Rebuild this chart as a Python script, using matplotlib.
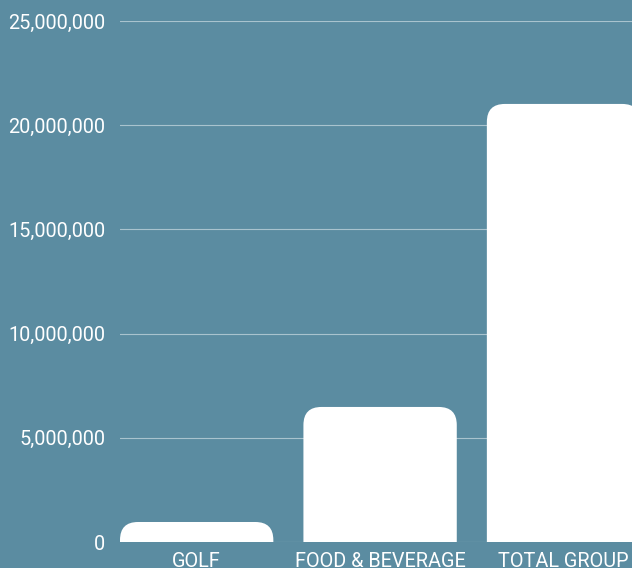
import matplotlib.pyplot as plt
from matplotlib.patches import FancyBboxPatch
from matplotlib.ticker import FuncFormatter

categories = ['GOLF', 'FOOD & BEVERAGE', 'TOTAL GROUP']
values = [960000, 6480000, 21020000]
y_ticks = [0, 5000000, 10000000, 15000000, 20000000, 25000000]

bg = '#5b8ca1'
W, H = 632, 568
fig = plt.figure(figsize=(W / 100, H / 100), dpi=100, facecolor=bg)
ax = fig.add_axes([120 / W, 26 / H, 1 - 120 / W, (542 - 21) / H])
ax.set_facecolor(bg)

bar_w = 0.836
ymax = 25000000
ax.set_xlim(-bar_w / 2, (632 - 196.5) / 183.5)
ax.set_ylim(0, ymax)

# rounded top corners: radius in pixels, converted to data units
px_x = 1 / 183.5
px_y = ymax / 521
r = 18
aspect = px_y / px_x
for i, v in enumerate(values):
    ext = r * px_y
    p = FancyBboxPatch((i - bar_w / 2, -ext), bar_w, v + ext,
                       boxstyle=f'round,pad=0,rounding_size={r * px_x}',
                       mutation_aspect=aspect, facecolor='white',
                       edgecolor='none', zorder=3)
    ax.add_patch(p)

ax.set_yticks(y_ticks)
ax.yaxis.set_major_formatter(FuncFormatter(lambda v, _: f'{int(v):,}'))
ax.set_xticks(range(len(categories)))
ax.set_xticklabels(categories)
ax.grid(axis='y', color='#a9c3ce', linewidth=0.8, zorder=0)
ax.tick_params(axis='both', length=0, colors='white', labelsize=14.3)
ax.tick_params(axis='y', pad=10.5)
ax.tick_params(axis='x', pad=7)
for lab in ax.get_xticklabels() + ax.get_yticklabels():
    lab.set_fontfamily('Roboto')
for s in ax.spines.values():
    s.set_visible(False)

fig.savefig('out.png', dpi=100, facecolor=bg)
